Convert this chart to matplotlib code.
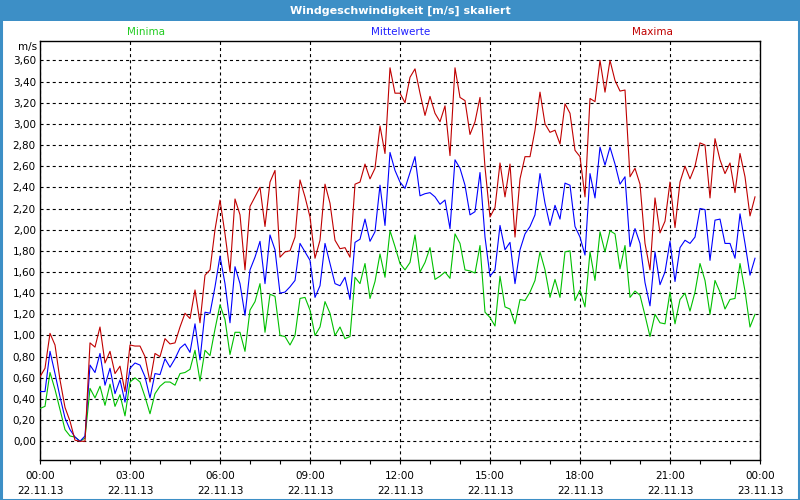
import numpy as np
import pandas as pd
import matplotlib
matplotlib.use("Agg")
import matplotlib.pyplot as plt
import matplotlib.dates as mdates
from matplotlib.patches import Rectangle

# 10-minute values, 22.11.13 00:00 .. 23:50
zeiten = pd.date_range("2013-11-22 00:00", periods=144, freq="10min")

maxima = [
    0.61, 0.69, 1.02, 0.91, 0.58, 0.32, 0.19, 0.01, 0.00, 0.00, 0.93, 0.89,
    1.08, 0.74, 0.85, 0.64, 0.71, 0.47, 0.91, 0.90, 0.90, 0.80, 0.56, 0.83,
    0.80, 0.97, 0.92, 0.93, 1.08, 1.21, 1.16, 1.43, 1.12, 1.57, 1.62, 2.00,
    2.28, 1.96, 1.60, 2.29, 2.14, 1.62, 2.22, 2.31, 2.40, 2.03, 2.45, 2.56,
    1.74, 1.79, 1.80, 1.93, 2.47, 2.31, 2.12, 1.73, 1.90, 2.43, 2.25, 1.90,
    1.82, 1.83, 1.74, 2.43, 2.45, 2.62, 2.48, 2.58, 2.98, 2.72, 3.53, 3.29,
    3.29, 3.20, 3.44, 3.52, 3.29, 3.08, 3.26, 3.10, 3.02, 3.17, 2.70, 3.53,
    3.25, 3.22, 2.90, 3.02, 3.25, 2.59, 2.12, 2.21, 2.63, 2.31, 2.62, 1.93,
    2.48, 2.69, 2.69, 2.94, 3.30, 3.00, 2.92, 2.94, 2.81, 3.19, 3.10, 2.75,
    2.69, 2.31, 3.24, 3.21, 3.60, 3.30, 3.60, 3.41, 3.31, 3.32, 2.50, 2.58,
    2.43, 1.87, 1.62, 2.30, 1.97, 2.08, 2.45, 2.02, 2.45, 2.60, 2.48, 2.60,
    2.82, 2.80, 2.30, 2.86, 2.66, 2.53, 2.63, 2.35, 2.72, 2.50, 2.13, 2.31,
]

mittelwerte = [
    0.47, 0.47, 0.85, 0.64, 0.42, 0.22, 0.11, 0.04, 0.00, 0.05, 0.72, 0.65,
    0.83, 0.53, 0.69, 0.45, 0.58, 0.37, 0.69, 0.74, 0.72, 0.61, 0.41, 0.64,
    0.63, 0.78, 0.70, 0.78, 0.88, 0.92, 0.84, 1.11, 0.77, 1.22, 1.21, 1.46,
    1.75, 1.49, 1.12, 1.65, 1.49, 1.19, 1.62, 1.74, 1.89, 1.49, 1.95, 1.81,
    1.40, 1.41, 1.46, 1.52, 1.87, 1.79, 1.71, 1.36, 1.47, 1.87, 1.68, 1.49,
    1.47, 1.55, 1.34, 1.88, 1.91, 2.10, 1.89, 1.98, 2.42, 2.04, 2.73, 2.56,
    2.45, 2.39, 2.54, 2.69, 2.32, 2.34, 2.35, 2.31, 2.24, 2.28, 2.01, 2.66,
    2.58, 2.42, 2.14, 2.17, 2.54, 1.93, 1.56, 1.62, 2.04, 1.81, 1.88, 1.49,
    1.81, 1.96, 2.03, 2.14, 2.53, 2.25, 2.04, 2.23, 2.10, 2.44, 2.42, 2.03,
    1.93, 1.76, 2.53, 2.30, 2.78, 2.61, 2.78, 2.62, 2.43, 2.50, 1.84, 2.01,
    1.87, 1.50, 1.28, 1.79, 1.48, 1.60, 1.89, 1.51, 1.83, 1.90, 1.87, 1.93,
    2.20, 2.19, 1.71, 2.09, 2.10, 1.87, 1.87, 1.73, 2.15, 1.87, 1.57, 1.73,
]

minima = [
    0.31, 0.33, 0.65, 0.49, 0.30, 0.11, 0.05, 0.04, 0.00, 0.03, 0.50, 0.41,
    0.52, 0.34, 0.54, 0.33, 0.44, 0.24, 0.56, 0.60, 0.56, 0.42, 0.26, 0.45,
    0.52, 0.56, 0.56, 0.53, 0.64, 0.65, 0.68, 0.86, 0.57, 0.86, 0.81, 1.06,
    1.29, 1.15, 0.82, 1.03, 1.03, 0.85, 1.24, 1.32, 1.49, 1.03, 1.39, 1.37,
    1.00, 0.99, 0.91, 1.00, 1.35, 1.36, 1.24, 1.00, 1.08, 1.32, 1.21, 1.00,
    1.08, 0.97, 0.99, 1.55, 1.49, 1.68, 1.35, 1.51, 1.77, 1.55, 1.99, 1.84,
    1.68, 1.62, 1.69, 1.95, 1.60, 1.69, 1.83, 1.53, 1.56, 1.60, 1.54, 1.96,
    1.87, 1.62, 1.61, 1.59, 1.85, 1.22, 1.17, 1.09, 1.56, 1.27, 1.25, 1.11,
    1.34, 1.33, 1.41, 1.52, 1.79, 1.62, 1.36, 1.53, 1.36, 1.79, 1.80, 1.33,
    1.43, 1.27, 1.79, 1.52, 1.98, 1.79, 1.99, 1.96, 1.63, 1.85, 1.36, 1.42,
    1.38, 1.19, 0.99, 1.20, 1.12, 1.11, 1.41, 1.11, 1.34, 1.40, 1.23, 1.41,
    1.68, 1.52, 1.20, 1.52, 1.41, 1.25, 1.34, 1.35, 1.68, 1.42, 1.08, 1.20,
]

y_ticks = np.arange(0, 3.61, 0.2)

plt.rcParams["font.family"] = "DejaVu Sans"
plt.rcParams["lines.scale_dashes"] = False

blau_rahmen = "#3d8fc6"
gruen = "#00c000"
blau = "#0000ff"
rot = "#c00000"

fig = plt.figure(figsize=(8, 5), dpi=100)
fig.patch.set_facecolor("white")

# window frame + title bar
fig.patches.append(Rectangle((0, 1 - 21 / 500), 1, 21 / 500, transform=fig.transFigure,
                             facecolor=blau_rahmen, edgecolor="none", zorder=0))
fig.patches.append(Rectangle((0.5 / 800, 0.5 / 500), 798.5 / 800, 499 / 500, transform=fig.transFigure,
                             facecolor="none", edgecolor=blau_rahmen, linewidth=2.2, zorder=0))
fig.text(0.5, 1 - 11 / 500, "Windgeschwindigkeit [m/s] skaliert", color="white",
         fontsize=8, fontweight="bold", ha="center", va="center")

fig.text(146 / 800, 1 - 32 / 500, "Minima", color="#22cc22", fontsize=7.5, ha="center", va="center")
fig.text(401 / 800, 1 - 32 / 500, "Mittelwerte", color="#2020ff", fontsize=7.5, ha="center", va="center")
fig.text(652 / 800, 1 - 32 / 500, "Maxima", color=rot, fontsize=7.5, ha="center", va="center")
fig.text(37 / 800, 1 - 47 / 500, "m/s", fontsize=7.5, ha="right", va="center")

ax = fig.add_axes([40 / 800, 1 - 460 / 500, 720 / 800, 419.5 / 500])
ax.plot(zeiten, minima, color=gruen, lw=0.8, zorder=3)
ax.plot(zeiten, mittelwerte, color=blau, lw=0.8, zorder=4)
ax.plot(zeiten, maxima, color=rot, lw=0.8, zorder=5)

ax.set_xlim(pd.Timestamp("2013-11-22 00:00"), pd.Timestamp("2013-11-23 00:00"))
ax.set_ylim(-0.177, 3.788)

ax.set_yticks(y_ticks)
ax.set_yticklabels([f"{v:.2f}".replace(".", ",") for v in y_ticks])
ax.tick_params(axis="y", length=0, pad=3, labelsize=7.5)

ax.xaxis.set_major_locator(mdates.HourLocator(byhour=range(0, 24, 3)))
ax.xaxis.set_minor_locator(mdates.HourLocator())
ax.xaxis.set_major_formatter(mdates.DateFormatter("%H:%M\n%d.%m.%y"))
ax.tick_params(axis="x", which="both", direction="out", length=3, width=0.8, labelsize=7.5, pad=5)
for lbl in ax.get_xticklabels():
    lbl.set_linespacing(1.6)

ax.grid(True, which="major", color="black", linestyle=(0, (2.2, 2.2)), linewidth=0.8)
for sp in ax.spines.values():
    sp.set_linewidth(1.0)

fig.savefig("out.png", dpi=100)
